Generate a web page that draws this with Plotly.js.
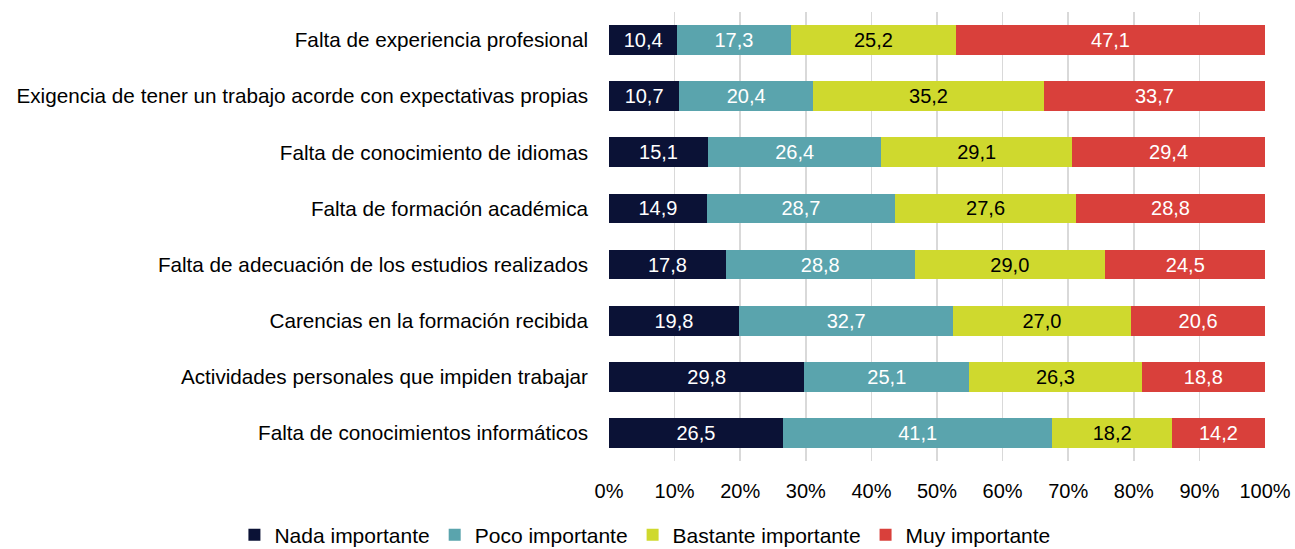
<!DOCTYPE html>
<html><head><meta charset="utf-8">
<script src="https://cdn.plot.ly/plotly-3.0.1.min.js"></script>
<style>body{margin:0;background:#fff}#c{width:1295px;height:549px}</style>
</head><body><div id="c"></div>
<script>
const categories = [
  "Falta de experiencia profesional",
  "Exigencia de tener un trabajo acorde con expectativas propias",
  "Falta de conocimiento de idiomas",
  "Falta de formación académica",
  "Falta de adecuación de los estudios realizados",
  "Carencias en la formación recibida",
  "Actividades personales que impiden trabajar",
  "Falta de conocimientos informáticos"
];
const nada     = [10.4, 10.7, 15.1, 14.9, 17.8, 19.8, 29.8, 26.5];
const poco     = [17.3, 20.4, 26.4, 28.7, 28.8, 32.7, 25.1, 41.1];
const bastante = [25.2, 35.2, 29.1, 27.6, 29.0, 27.0, 26.3, 18.2];
const muy      = [47.1, 33.7, 29.4, 28.8, 24.5, 20.6, 18.8, 14.2];
const seriesNames = ["Nada importante", "Poco importante", "Bastante importante", "Muy importante"];
const tickVals = [0,10,20,30,40,50,60,70,80,90,100];
const tickText = ["0%","10%","20%","30%","40%","50%","60%","70%","80%","90%","100%"];

const colors = ["#0b1236", "#5aa4ad", "#cfd92e", "#d9403b"];
const textColors = ["#ffffff", "#ffffff", "#000000", "#ffffff"];
const FONT = "Liberation Sans, Arial, sans-serif";
const FS = 20;
const all = [nada, poco, bastante, muy];
const traces = all.map((vals, i) => ({
  type: "bar",
  orientation: "h",
  name: seriesNames[i],
  y: categories,
  x: vals,
  marker: {color: colors[i]},
  text: vals.map(v => v.toFixed(1).replace(".", ",")),
  textposition: "inside",
  insidetextanchor: "middle",
  textangle: 0,
  textfont: {family: FONT, size: FS, color: textColors[i]},
  constraintext: "none",
  hoverinfo: "skip"
}));

const layout = {
  barmode: "stack",
  bargap: 0.47,
  width: 1295, height: 549,
  margin: {l: 609, r: 30, t: 12, b: 88, autoexpand: false},
  paper_bgcolor: "#ffffff",
  plot_bgcolor: "#ffffff",
  font: {family: FONT, size: FS, color: "#000"},
  showlegend: true,
  legend: {orientation: "h", xref: "paper", x: -0.571, xanchor: "left",
           yref: "paper", y: -0.165, yanchor: "middle",
           font: {family: FONT, size: 21, color: "#000"}, traceorder: "normal",
           itemclick: false},
  xaxis: {
    range: [0, 100], tickvals: tickVals, ticktext: tickText,
    showgrid: true, gridcolor: "#d9d9d9", gridwidth: 1.5,
    zeroline: false, showline: false, ticks: "", ticklabelstandoff: 16,
    tickfont: {family: FONT, size: FS, color: "#000"}, fixedrange: true
  },
  yaxis: {
    autorange: "reversed", categoryorder: "array", categoryarray: categories,
    showgrid: false, zeroline: false, showline: false, ticks: "",
    ticklabelstandoff: 20,
    tickfont: {family: FONT, size: 20.7, color: "#000"}, fixedrange: true
  }
};
Plotly.newPlot("c", traces, layout, {displayModeBar: false, staticPlot: true});
</script></body></html>
